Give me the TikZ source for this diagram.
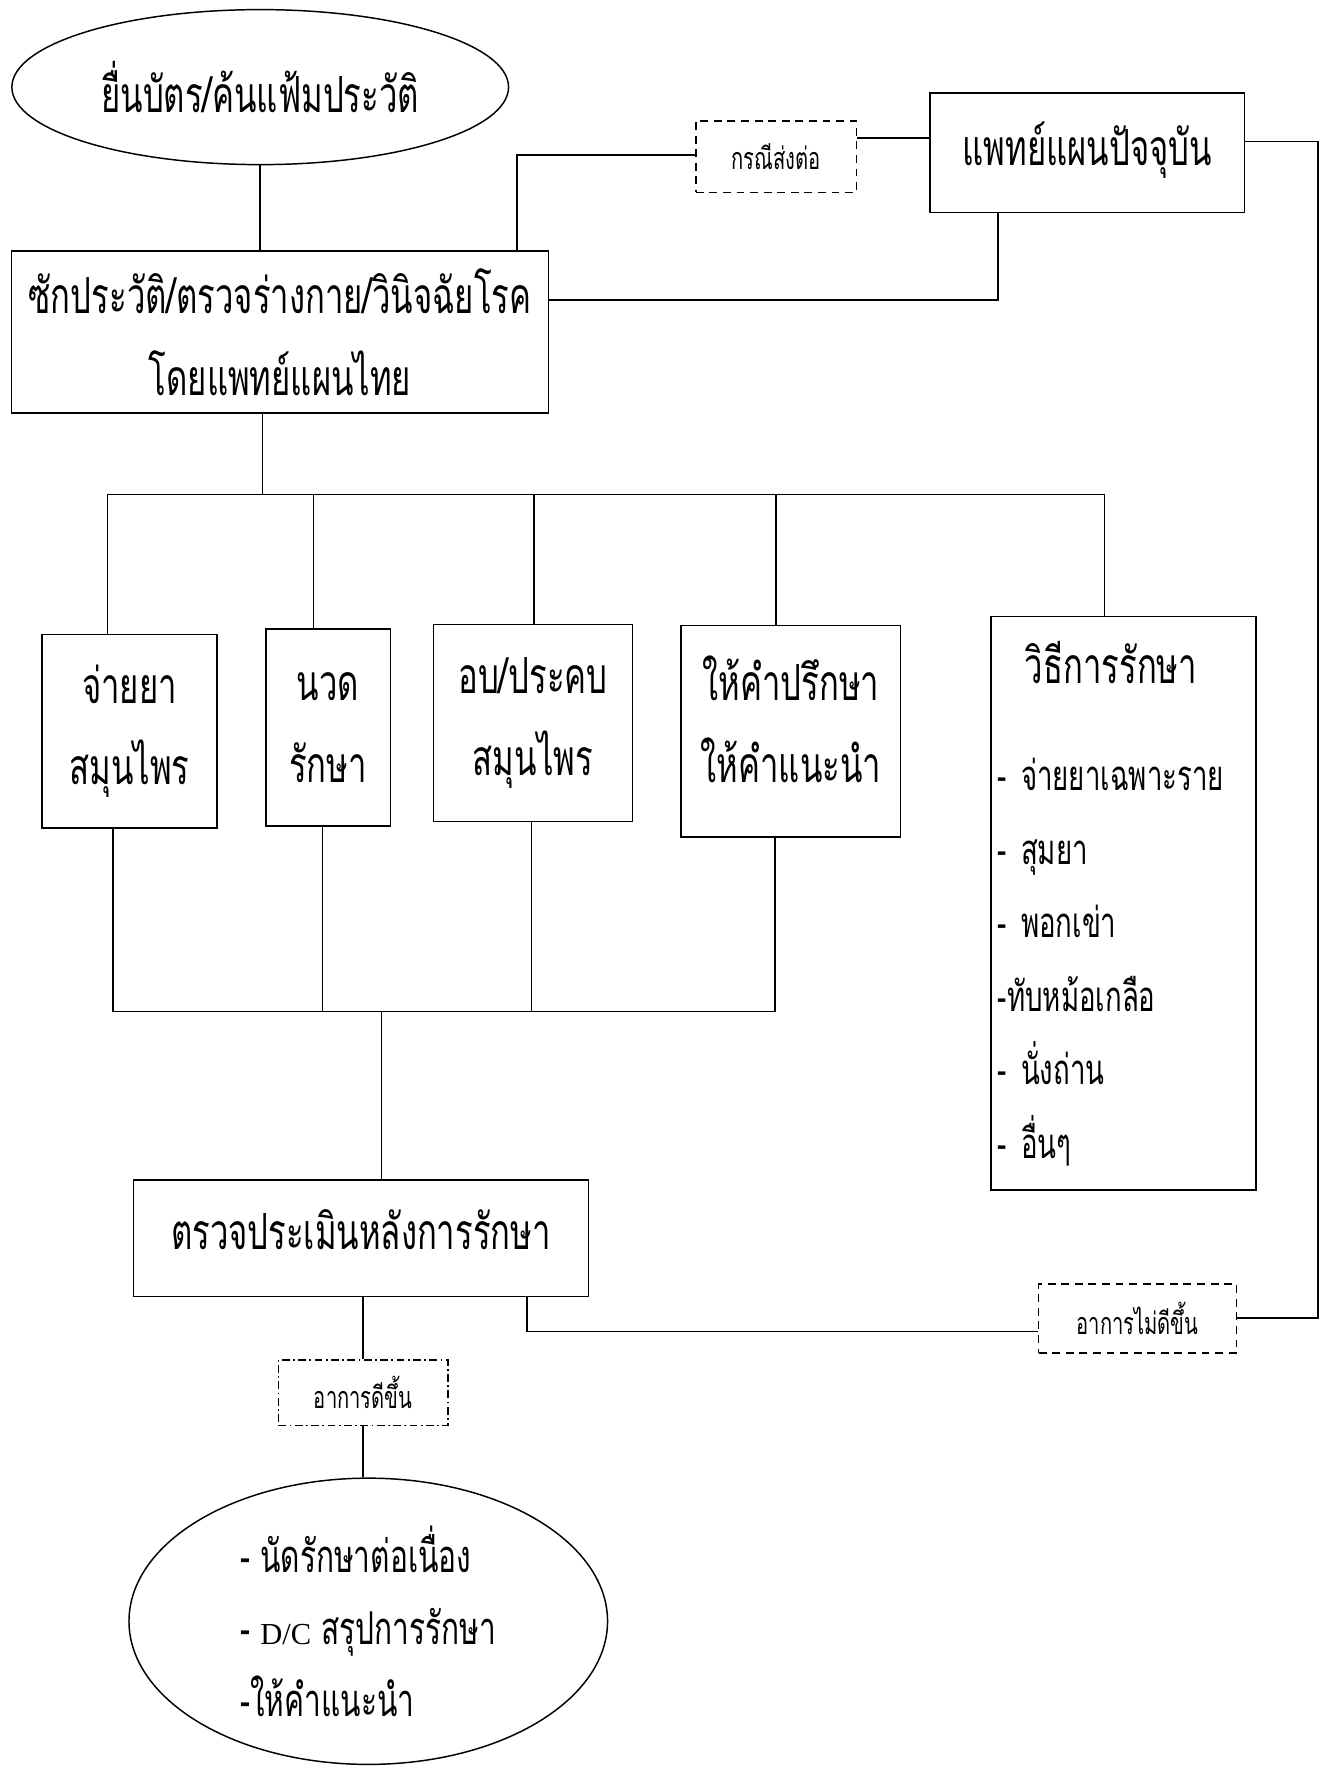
\documentclass[tikz,border=0pt]{standalone}
\usepackage{fontspec}
\setmainfont[Script=Thai,FakeStretch=0.66]{Loma}
\newfontfamily\dcfont{Liberation Serif}
\usetikzlibrary{shapes.geometric,positioning}

\begin{document}
\begin{tikzpicture}[x=1pt,y=-1pt,line width=1.3pt,
  box/.style={draw,rectangle,inner sep=0pt,align=center,font=\fontsize{44}{72}\selectfont},
  oval/.style={draw,ellipse,inner sep=0pt,font=\fontsize{44}{64}\selectfont},
  tag/.style={draw,rectangle,inner sep=0pt,dash pattern=on 7pt off 5pt,font=\fontsize{27}{30}\selectfont},
  tagdot/.style={tag,dash pattern=on 7pt off 3pt on 1.5pt off 3pt}]
\useasboundingbox (0,0) rectangle (1173,1568);
\node[oval,minimum width=439,minimum height=137] (1) at (230,77) {ยื่นบัตร/ค้นแฟ้มประวัติ};
\node[box,minimum width=475,minimum height=143] (2) at (247.5,293.5) {ซักประวัติ/ตรวจร่างกาย/วินิจฉัยโรค\\โดยแพทย์แผนไทย};
\node[tag,minimum width=142,minimum height=63] (3) at (686,138.5) {กรณีส่งต่อ};
\node[box,minimum width=278,minimum height=106] (4) at (961,135) {\raisebox{16pt}{แพทย์แผนปัจจุบัน}};
\node[box,minimum width=155,minimum height=171] (5) at (114.5,646.5) {จ่ายยา\\สมุนไพร};
\node[box,minimum width=110,minimum height=174] (6) at (290,643) {นวด\\รักษา};
\node[box,minimum width=176,minimum height=174] (7) at (471,639) {อบ/ประคบ\\สมุนไพร};
\node[box,minimum width=194,minimum height=187] (8) at (699,646.5) {ให้คำปรึกษา\\ให้คำแนะนำ\\[-50pt]\mbox{}};
\node[box,minimum width=234,minimum height=507,text width=222,align=left,font=\fontsize{37}{65}\selectfont] (9) at (993,798.5)
  {\makebox[200pt]{\fontsize{44}{50}\selectfont วิธีการรักษา}\\[30pt]- จ่ายยาเฉพาะราย\\- สุมยา\\- พอกเข่า\\-ทับหม้อเกลือ\\- นั่งถ่าน\\- อื่นๆ};
\node[box,minimum width=402,minimum height=103] (10) at (319,1094.5) {\raisebox{16pt}{ตรวจประเมินหลังการรักษา}};
\node[tagdot,minimum width=150,minimum height=58] (11) at (321,1231) {อาการดีขึ้น};
\node[oval,minimum width=423,minimum height=253,align=left,font=\fontsize{40}{64}\selectfont] (12) at (325.5,1433)
  {- นัดรักษาต่อเนื่อง\\- {\dcfont\fontsize{27}{30}\selectfont D/C} สรุปการรักษา\\-ให้คำแนะนำ};
\node[tag,minimum width=175,minimum height=61] (13) at (1005.5,1165.5) {อาการไม่ดีขึ้น};
\coordinate (a) at (457,137);
\coordinate (b) at (790,122);
\coordinate (c) at (882,265);
\coordinate (d) at (1165,125);
\coordinate (e) at (1165,1165);
\coordinate (f) at (466,1177);
\coordinate (g) at (232,437);
\coordinate (h1) at (95,437);
\coordinate (h2) at (277,437);
\coordinate (h3) at (472,437);
\coordinate (h4) at (686,437);
\coordinate (h5) at (976,437);
\coordinate (j1) at (100,894);
\coordinate (j2) at (285,894);
\coordinate (j3) at (470,894);
\coordinate (j4) at (685,894);
\coordinate (k) at (337,894);
\draw (1.south) -- (1.south |- 2.north);
\draw (2.north -| a) -- (a) -- (a -| 3.west);
\draw (3.east |- b) -- (b -| 4.west);
\draw (2.east |- c) -- (c) -- (c |- 4.south);
\draw (4.east |- d) -- (d) -- (e) -- (e -| 13.east);
\draw (13.west |- f) -- (f) -- (f |- 10.south);
\draw (2.south -| g) -- (g);
\draw (h1) -- (h5);
\draw (h1) -- (h1 |- 5.north);
\draw (h2) -- (h2 |- 6.north);
\draw (h3) -- (h3 |- 7.north);
\draw (h4) -- (h4 |- 8.north);
\draw (h5) -- (h5 |- 9.north);
\draw (5.south -| j1) -- (j1) -- (j4) -- (j4 |- 8.south);
\draw (6.south -| j2) -- (j2);
\draw (7.south -| j3) -- (j3);
\draw (k) -- (k |- 10.north);
\draw (10.south -| 11.north) -- (11.north);
\draw (11.south) -- (11.south |- 12.north);
\end{tikzpicture}
\end{document}
